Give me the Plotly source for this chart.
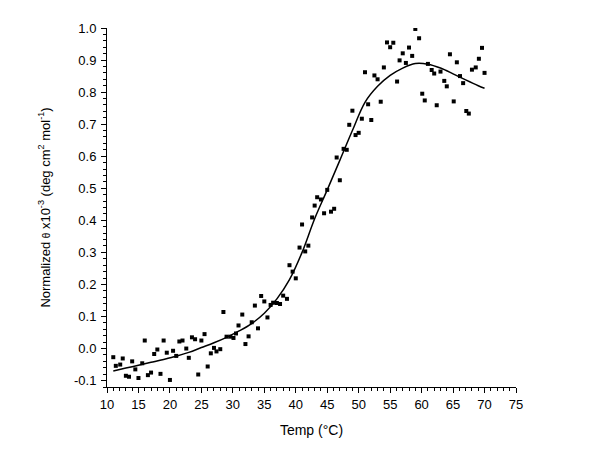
import plotly.graph_objects as go

# measured points (Temp in C, normalized theta)
temp = [11.0, 11.4, 12.1, 12.5, 13.0, 13.5, 14.0, 14.5, 15.0, 15.6, 16.0, 16.5, 17.0, 17.5, 18.0,
        18.5, 19.0, 19.5, 20.0, 20.5, 21.0, 21.5, 22.0, 22.6, 23.0, 23.5, 24.0, 24.5, 25.0, 25.5,
        26.0, 26.5, 27.0, 27.4, 28.0, 28.5, 29.0, 29.6, 30.1, 30.5, 30.9,
        31.5, 32.0, 32.5, 33.0, 33.5, 34.0, 34.5, 35.0, 35.5, 36.0, 36.4, 37.0, 37.5, 38.0,
        38.6, 39.0, 39.5, 40.0, 40.6, 41.0, 41.5, 42.0, 42.6, 43.0, 43.4, 44.0, 44.5, 45.0,
        45.6, 46.1,
        46.5, 47.0, 47.6, 48.1, 48.5, 49.0, 49.5, 50.0, 50.5, 51.0, 51.5, 52.0, 52.5, 53.0,
        53.5, 54.0, 54.5, 55.0, 55.5, 56.1, 56.5, 57.0, 57.5, 58.0, 58.5, 59.0, 59.6, 60.1,
        60.5, 61.0, 61.6, 62.0, 62.4, 63.0, 63.6, 64.0, 64.5, 65.1, 65.6, 66.1, 66.6, 67.1,
        67.5, 68.0, 68.6, 69.1, 69.6, 70.0]
theta = [-0.027, -0.054, -0.050, -0.031, -0.085, -0.088, -0.040, -0.065, -0.092, -0.046, 0.025,
         -0.083, -0.075, -0.017, -0.003, -0.079, 0.025, -0.013, -0.098, -0.007, -0.023, 0.022,
         0.025, 0.000, -0.029, 0.035, 0.029, -0.081, 0.025, 0.045, -0.056, -0.015, 0.002, -0.009,
         -0.002, 0.114, 0.037, 0.037, 0.033, 0.047, 0.072,
         0.106, 0.014, 0.038, 0.082, 0.134, 0.063, 0.164, 0.147, 0.097, 0.136, 0.143, 0.142,
         0.139, 0.165, 0.155, 0.260, 0.240, 0.219, 0.315, 0.387, 0.303, 0.321, 0.409, 0.446,
         0.472, 0.465, 0.422, 0.495, 0.427, 0.436,
         0.596, 0.525, 0.623, 0.620, 0.698, 0.742, 0.666, 0.673, 0.717, 0.862, 0.762, 0.713,
         0.852, 0.840, 0.770, 0.877, 0.955, 0.940, 0.954, 0.833, 0.899, 0.921, 0.891, 0.939,
         0.913, 0.997, 0.968, 0.795, 0.774, 0.888, 0.869, 0.858, 0.759, 0.864, 0.835, 0.818,
         0.918, 0.771, 0.893, 0.850, 0.828, 0.741, 0.733, 0.870, 0.877, 0.904, 0.938, 0.860]

# fitted curve
fit_temp = [11, 13, 15, 17, 19, 21, 23, 25, 27, 29, 31, 33, 35, 37, 39, 41, 43, 45, 47, 49,
            51, 53, 55, 57, 59, 61, 63, 65, 67, 69, 70]
fit_val = [-0.07, -0.061, -0.052, -0.043, -0.034, -0.024, -0.012, 0.003, 0.018, 0.035, 0.055,
           0.078, 0.11, 0.155, 0.215, 0.30, 0.405, 0.495, 0.587, 0.68, 0.768, 0.818, 0.852,
           0.875, 0.889, 0.887, 0.875, 0.857, 0.838, 0.82, 0.812]

y_ticks = [-0.1, 0.0, 0.1, 0.2, 0.3, 0.4, 0.5, 0.6, 0.7, 0.8, 0.9, 1.0]
y_labels = ["-0.1", "0.0", "0.1", "0.2", "0.3", "0.4", "0.5", "0.6", "0.7", "0.8", "0.9", "1.0"]

fig = go.Figure()
fig.add_trace(go.Scatter(x=temp, y=theta, mode='markers',
                         marker=dict(symbol='square', size=4, color='black'),
                         cliponaxis=True))
fig.add_trace(go.Scatter(x=fit_temp, y=fit_val, mode='lines',
                         line=dict(color='black', width=1.5, shape='spline')))

# page body adds 8px, so margins are trimmed by that much on the left/top
fig.update_layout(
    width=600, height=464,
    margin=dict(l=99, r=92, t=20, b=85),
    plot_bgcolor='white', paper_bgcolor='white',
    showlegend=False,
    font=dict(family='Liberation Sans, Arial', size=13, color='black'),
    xaxis=dict(
        range=[10, 75], dtick=5, tick0=10,
        showline=True, linecolor='black', linewidth=1,
        ticks='outside', ticklen=5, tickcolor='black',
        showgrid=False, zeroline=False, ticklabelstandoff=0,
        minor=dict(ticks='outside', dtick=1, ticklen=3, tickcolor='black'),
        title=dict(text='Temp (°C)', font=dict(size=14), standoff=14),
    ),
    yaxis=dict(
        range=[-0.12, 1.0],
        tickvals=y_ticks, ticktext=y_labels,
        showline=True, linecolor='black', linewidth=1,
        ticks='outside', ticklen=5, tickcolor='black',
        showgrid=False, zeroline=False, ticklabelstandoff=2,
        minor=dict(ticks='outside', dtick=0.02, tick0=0, ticklen=3, tickcolor='black'),
        title=dict(text='Normalized <span style="font-size:10px">θ</span> x10<sup>-3</sup> (deg cm<sup>2</sup> mol<sup>-1</sup>)',
                   font=dict(size=13), standoff=20),
    ),
)

fig.write_html("out.html")
